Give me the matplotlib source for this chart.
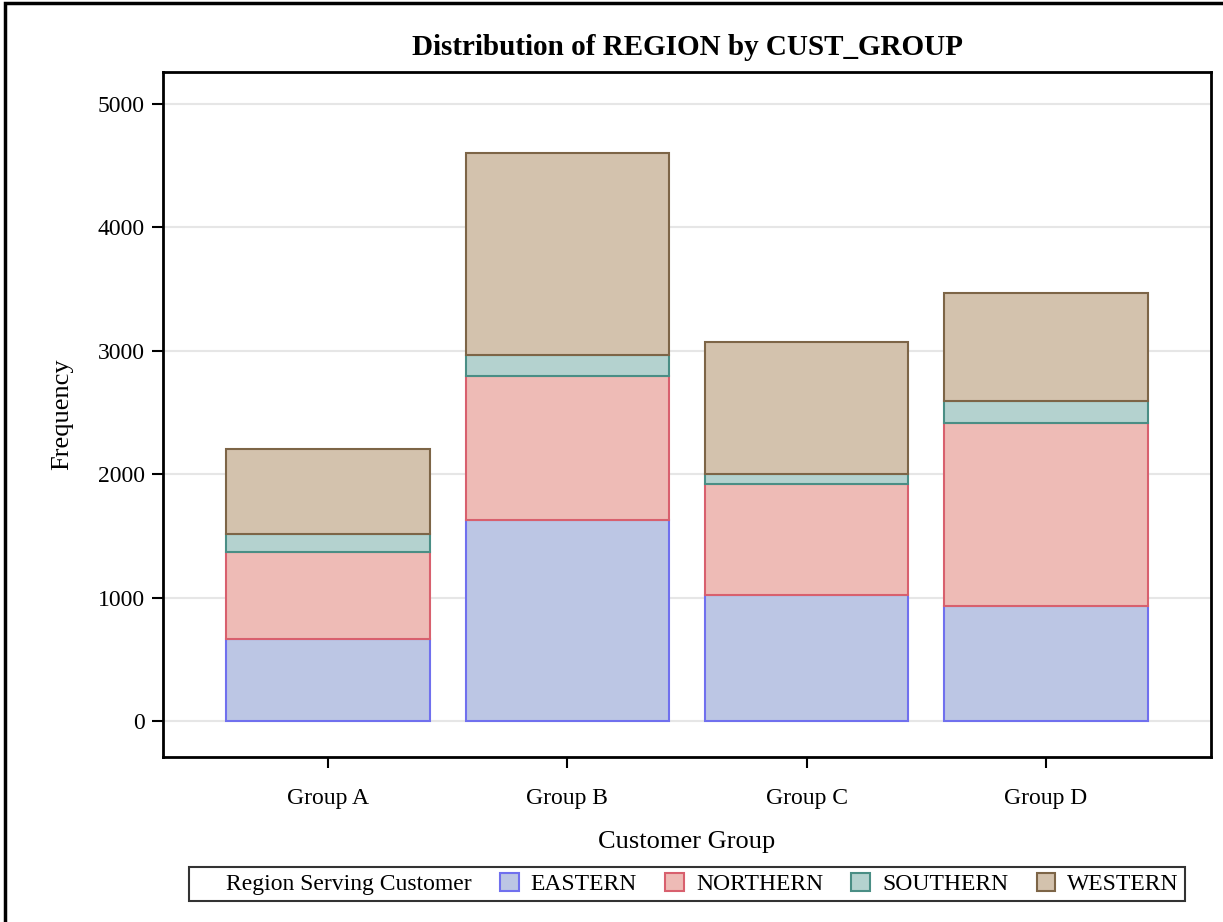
import numpy as np
import matplotlib.pyplot as plt
from matplotlib.patches import Rectangle, Patch

plt.rcParams['font.family'] = ['Liberation Serif', 'DejaVu Serif']

# data
groups = ['Group A', 'Group B', 'Group C', 'Group D']
regions = ['EASTERN', 'NORTHERN', 'SOUTHERN', 'WESTERN']
eastern = [661, 1629, 1018, 934]
northern = [708, 1168, 900, 1484]
southern = [144, 167, 87, 171]
western = [689, 1638, 1070, 881]
yticks = [0, 1000, 2000, 3000, 4000, 5000]

fills = ['#bcc6e4', '#eebbb6', '#b4d2cf', '#d3c2ad']
edges = ['#7070ee', '#d8606e', '#4a8e85', '#7d6547']

fig = plt.figure(figsize=(12.23, 9.22), dpi=100)
ax = fig.add_axes([163 / 1223, 1 - 757 / 922, (1211 - 163) / 1223, (757 - 72) / 922])

x = np.arange(len(groups))
bottom = np.zeros(len(groups))
for vals, fc, ec, name in zip([eastern, northern, southern, western], fills, edges, regions):
    ax.bar(x, vals, width=0.85, bottom=bottom, color=fc, edgecolor=ec, linewidth=1.5, label=name, zorder=3)
    bottom += np.array(vals)

ax.set_xlim(-0.69, 3.69)
ax.set_ylim(-292, 5259)
ax.set_yticks(yticks)
ax.set_xticks(x)
ax.set_xticklabels(groups)
ax.grid(axis='y', color='#e6e6e6', linewidth=1.5, zorder=0)
ax.tick_params(direction='out', length=8, width=1.5, labelsize=17, pad=5)
ax.tick_params(axis='x', pad=14)
for s in ax.spines.values():
    s.set_linewidth(2)

ax.set_title('Distribution of REGION by CUST_GROUP', fontsize=21, fontweight='bold', pad=12)
ax.set_xlabel('Customer Group', fontsize=19, labelpad=16)
ax.set_ylabel('Frequency', fontsize=19, labelpad=18)

# legend with inline title
handles = [Patch(facecolor='none', edgecolor='none')]
labels = ['Region Serving Customer']
for fc, ec, name in zip(fills, edges, regions):
    handles.append(Patch(facecolor=fc, edgecolor=ec, linewidth=1.5))
    labels.append(name)
leg = fig.legend(handles, labels, ncol=5, loc='center', bbox_to_anchor=(687 / 1223, 1 - 884 / 922),
                 fontsize=17, frameon=True, fancybox=False, edgecolor='black',
                 handlelength=0.8, handleheight=0.8, handletextpad=0.5, columnspacing=1.2,
                 borderpad=0.25)
leg.get_frame().set_linewidth(1.5)

# outer frame
fig.patches.append(Rectangle((5 / 1223, -0.1), 1.2, 1.1 - 3 / 922, transform=fig.transFigure,
                             fill=False, edgecolor='black', linewidth=2.5))

fig.savefig('out.png', dpi=100)
